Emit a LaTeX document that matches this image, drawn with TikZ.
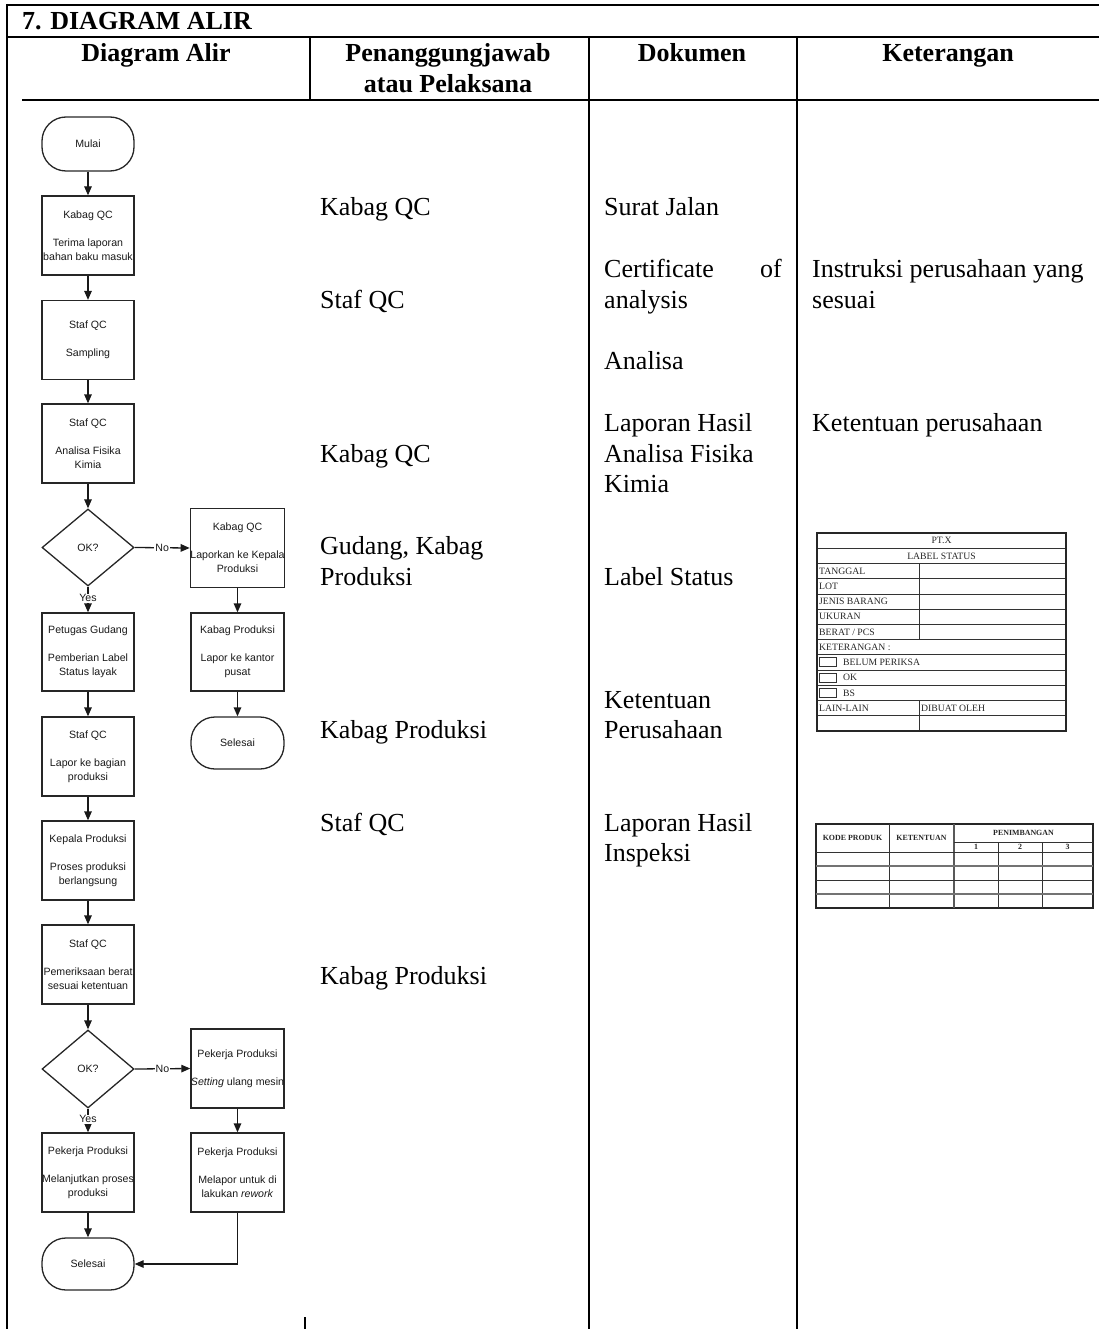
\documentclass[tikz,border=0pt]{standalone}
\usepackage{fontspec}
\setmainfont{Liberation Serif}
\newfontfamily\flowfont{Liberation Sans}
\usetikzlibrary{shapes.geometric,arrows.meta}
\newcommand{\bigtxt}{\fontsize{26}{31}\selectfont}
\newcommand{\flowtxt}{\flowfont\fontsize{10.6}{14}\selectfont}
\newcommand{\lbltxt}{\fontsize{9.7}{11}\selectfont}
\newcommand{\pentxt}{\fontsize{7.9}{9}\selectfont\bfseries}
\begin{document}
\begin{tikzpicture}[x=1pt,y=-1pt,
  tline/.style={line width=2pt, black},
  txt/.style={anchor=base west, inner sep=0pt, font=\bigtxt},
  htxt/.style={anchor=base, inner sep=0pt, font=\bigtxt\bfseries},
  fbox/.style={rectangle, draw=black!85, line width=1.3pt, text=black!90, font=\flowtxt, align=center, inner sep=0pt, minimum width=92pt, minimum height=79pt},
  rbox/.style={fbox, minimum width=93pt},
  term/.style={rectangle, rounded corners=24pt, draw=black!85, line width=1.3pt, text=black!90, font=\flowtxt, inner sep=0pt, minimum width=92pt, minimum height=54pt},
  dia/.style={diamond, draw=black!85, line width=1.3pt, text=black!90, font=\flowtxt, inner sep=0pt, minimum width=92pt, minimum height=78pt},
  arr/.style={draw=black!90, line width=1.3pt, -{Triangle[length=9pt,width=7.5pt]}},
  yn/.style={fill=white, inner sep=1pt, font=\flowtxt, text=black!90},
  lt/.style={line width=0.8pt, black!80},
  lo/.style={line width=1.3pt, black!85},
  ltx/.style={inner sep=0pt, font=\lbltxt, text=black!85},
  ptx/.style={inner sep=0pt, font=\pentxt, text=black!85}
]
\useasboundingbox (0,0) rectangle (1099,1329);

% ---- main table frame ----
\draw[tline] (6,5) -- (1099,5);
\draw[tline] (7,4) -- (7,1329);
\draw[tline] (7,37) -- (1099,37);
\draw[tline] (22,100) -- (1099,100);
\draw[tline] (310,37) -- (310,100);
\draw[tline] (589,37) -- (589,1329);
\draw[tline] (797,37) -- (797,1329);
\draw[tline] (305,1317) -- (305,1329);

% ---- header ----
\node[anchor=base west, inner sep=0pt, font=\bigtxt\bfseries] (title) at (22,30) {7. DIAGRAM ALIR};
\node[htxt] (h1) at (156,62) {Diagram Alir};
\node[htxt] (h2a) at (448,62) {Penanggungjawab};
\node[htxt] (h2b) at (448,92.5) {atau Pelaksana};
\node[htxt] (h3) at (692,62) {Dokumen};
\node[htxt] (h4) at (948,62) {Keterangan};

% ---- column 2 ----
\node[txt] (p1) at (320,216) {Kabag QC};
\node[txt] (p2) at (320,308.25) {Staf QC};
\node[txt] (p3) at (320,462) {Kabag QC};
\node[txt] (p4a) at (320,554.25) {Gudang, Kabag};
\node[txt] (p4b) at (320,585) {Produksi};
\node[txt] (p5) at (320,738.75) {Kabag Produksi};
\node[txt] (p6) at (320,831) {Staf QC};
\node[txt] (p7) at (320,984.75) {Kabag Produksi};

% ---- column 3 ----
\node[txt] (d1) at (604,216) {Surat Jalan};
\node[txt] (d2a) at (604,277.5) {Certificate};
\node[anchor=base east, inner sep=0pt, font=\bigtxt] (d2of) at (782,277.5) {of};
\node[txt] (d2b) at (604,308.25) {analysis};
\node[txt] (d3) at (604,369.75) {Analisa};
\node[txt] (d4a) at (604,431.25) {Laporan Hasil};
\node[txt] (d4b) at (604,462) {Analisa Fisika};
\node[txt] (d4c) at (604,492.75) {Kimia};
\node[txt] (d5) at (604,585) {Label Status};
\node[txt] (d6a) at (604,708) {Ketentuan};
\node[txt] (d6b) at (604,738.75) {Perusahaan};
\node[txt] (d7a) at (604,831) {Laporan Hasil};
\node[txt] (d7b) at (604,861.75) {Inspeksi};

% ---- column 4 ----
\node[txt] (k1a) at (812,277.5) {Instruksi perusahaan yang};
\node[txt] (k1b) at (812,308.25) {sesuai};
\node[txt] (k2) at (812,431.25) {Ketentuan perusahaan};

% ---- label status table ----
\foreach \i in {0,...,13} {
  \draw[lt] (817,{533+15.23*\i}) -- (1066,{533+15.23*\i});
}
\draw[lt] (919,{533+15.23*2}) -- (919,{533+15.23*7});
\draw[lt] (919,{533+15.23*11}) -- (919,{533+15.23*13});
\draw[lo] (817,533) rectangle (1066,731);
\foreach \i in {8,9,10} {
  \draw[line width=0.8pt, black!80] (819,{533+15.23*\i+3}) rectangle (836,{533+15.23*\i+12});
}
\node[ltx] (ls0) at (941.5,{533+15.23*0.5}) {PT.X};
\node[ltx] (ls1) at (941.5,{533+15.23*1.5}) {LABEL STATUS};
\node[ltx, anchor=west] (ls2) at (819,{533+15.23*2.5}) {TANGGAL};
\node[ltx, anchor=west] (ls3) at (819,{533+15.23*3.5}) {LOT};
\node[ltx, anchor=west] (ls4) at (819,{533+15.23*4.5}) {JENIS BARANG};
\node[ltx, anchor=west] (ls5) at (819,{533+15.23*5.5}) {UKURAN};
\node[ltx, anchor=west] (ls6) at (819,{533+15.23*6.5}) {BERAT / PCS};
\node[ltx, anchor=west] (ls7) at (819,{533+15.23*7.5}) {KETERANGAN :};
\node[ltx, anchor=west] (ls8) at (843,{533+15.23*8.5}) {BELUM PERIKSA};
\node[ltx, anchor=west] (ls9) at (843,{533+15.23*9.5}) {OK};
\node[ltx, anchor=west] (ls10) at (843,{533+15.23*10.5}) {BS};
\node[ltx, anchor=west] (ls11a) at (819,{533+15.23*11.5}) {LAIN-LAIN};
\node[ltx, anchor=west] (ls11b) at (921,{533+15.23*11.5}) {DIBUAT OLEH};

% ---- penimbangan table ----
\draw[lo] (816,824) rectangle (1093,908);
\draw[lt] (889,824) -- (889,908);
\draw[line width=1.2pt, black!65] (954,824) -- (954,908);
\draw[lt] (998,842) -- (998,908);
\draw[lt] (1042,842) -- (1042,908);
\draw[lt] (954,842) -- (1093,842);
\draw[lt] (816,852) -- (1093,852);
\draw[line width=1.4pt, black!55] (816,866) -- (1093,866);
\draw[lt] (816,880) -- (1093,880);
\draw[line width=1.4pt, black!55] (816,894) -- (1093,894);
\node[ptx] (t1) at (852.5,838) {KODE PRODUK};
\node[ptx] (t2) at (921.5,838) {KETENTUAN};
\node[ptx] (t3) at (1023.5,833) {PENIMBANGAN};
\node[ptx] (t4) at (976,847) {1};
\node[ptx] (t5) at (1020,847) {2};
\node[ptx] (t6) at (1067.5,847) {3};

% ---- flowchart ----
\node[term] (mulai) at (88,144) {Mulai};
\node[fbox] (b1) at (88,235.5) {Kabag QC\\ \\Terima laporan\\bahan baku masuk};
\node[fbox] (b2) at (88,340) {Staf QC\\ \\Sampling};
\node[fbox] (b3) at (88,443.5) {Staf QC\\ \\Analisa Fisika\\Kimia};
\node[dia, minimum height=77pt] (q1) at (88,547.5) {OK?};
\node[rbox] (r1) at (237.5,548) {Kabag QC\\ \\Laporkan ke Kepala\\Produksi};
\node[fbox, minimum height=78pt] (b4) at (88,652) {Petugas Gudang\\ \\Pemberian Label\\Status layak};
\node[rbox, minimum height=78pt] (r2) at (237.5,652) {Kabag Produksi\\ \\Lapor ke kantor\\pusat};
\node[term, minimum width=93pt, minimum height=52pt] (end1) at (237.5,743) {Selesai};
\node[fbox] (b5) at (88,756.5) {Staf QC\\ \\Lapor ke bagian\\produksi};
\node[fbox] (b6) at (88,860.5) {Kepala Produksi\\ \\Proses produksi\\berlangsung};
\node[fbox] (b7) at (88,964.5) {Staf QC\\ \\Pemeriksaan berat\\sesuai ketentuan};
\node[dia] (q2) at (88,1069) {OK?};
\node[rbox] (r3) at (237.5,1068.5) {Pekerja Produksi\\ \\\textit{Setting} ulang mesin};
\node[fbox] (b8) at (88,1172.5) {Pekerja Produksi\\ \\Melanjutkan proses\\produksi};
\node[rbox] (r4) at (237.5,1172.5) {Pekerja Produksi\\ \\Melapor untuk di\\lakukan \textit{rework}};
\node[term, minimum height=52pt] (end2) at (88,1264) {Selesai};

\draw[arr] (mulai) -- (b1);
\draw[arr] (b1) -- (b2);
\draw[arr] (b2) -- (b3);
\draw[arr] (b3) -- (q1);
\draw[arr] (q1.east) -- node[yn] {No} (r1.west);
\draw[arr] (q1.south) -- node[yn, pos=0.45] {Yes} (b4.north);
\draw[arr] (r1) -- (r2);
\draw[arr] (r2) -- (end1);
\draw[arr] (b4) -- (b5);
\draw[arr] (b5) -- (b6);
\draw[arr] (b6) -- (b7);
\draw[arr] (b7) -- (q2);
\draw[arr] (q2.east) -- node[yn] {No} (r3.west);
\draw[arr] (q2.south) -- node[yn, pos=0.45] {Yes} (b8.north);
\draw[arr] (r3) -- (r4);
\draw[arr] (b8) -- (end2);
\draw[arr] (r4.south) |- (end2.east);
\end{tikzpicture}
\end{document}
